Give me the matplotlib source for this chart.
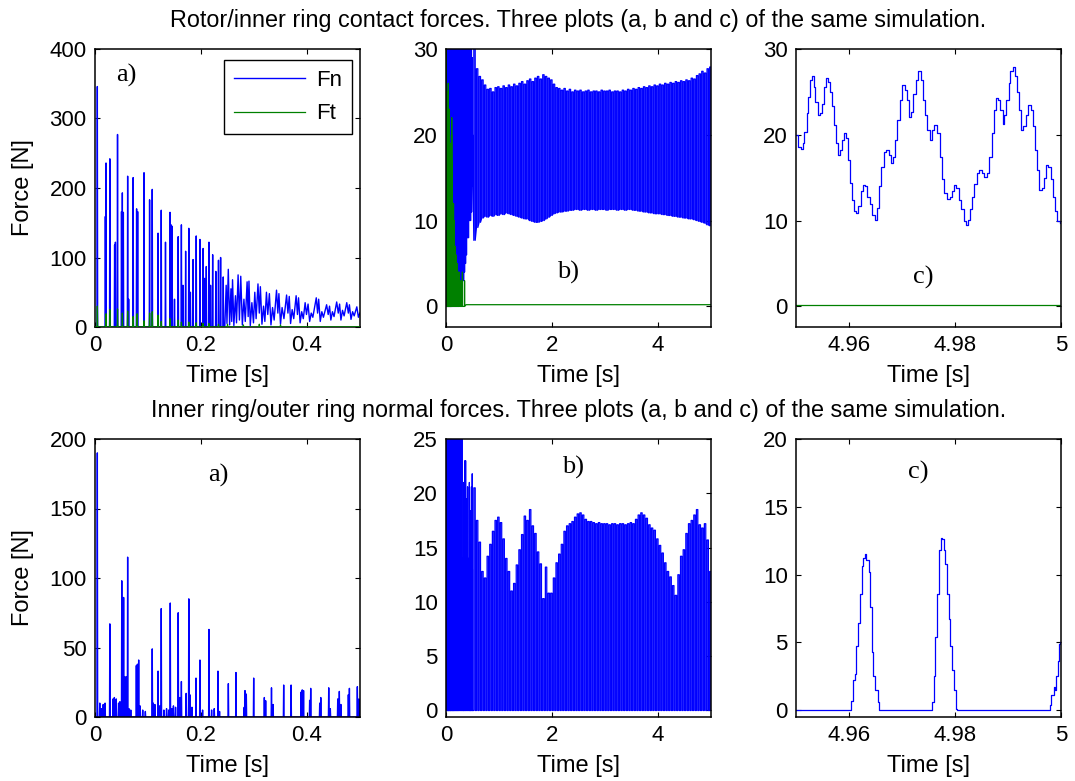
import numpy as np
import matplotlib
matplotlib.use("Agg")
import matplotlib.pyplot as plt

plt.rcParams['font.family'] = ['Liberation Sans', 'DejaVu Sans']

BLUE = (0, 0, 1)
GREEN = (0, 0.5, 0)

# ---------------- data: rotor / inner ring (top row) ----------------
# a) isolated impact spikes of Fn, 0 - 0.245 s  (time [s], peak [N])
top_spike_t = [0.0044, 0.0195, 0.0208, 0.0280, 0.0370, 0.0385, 0.0425, 0.0500, 0.0516,
               0.0535, 0.0616, 0.0635, 0.0720, 0.0785, 0.0805, 0.0925, 0.1030, 0.1080,
               0.1190, 0.1250, 0.1330, 0.1415, 0.1435, 0.1455, 0.1500, 0.1570, 0.1630,
               0.1660, 0.1710, 0.1770, 0.1800, 0.1850, 0.1910, 0.1980, 0.2040, 0.2070,
               0.2100, 0.2150, 0.2180, 0.2220, 0.2280, 0.2330, 0.2370, 0.2420]
top_spike_fn = [346, 159, 236, 242, 118, 122, 277, 166, 193,
                165, 217, 40, 215, 170, 166, 222, 183, 198,
                135, 168, 122, 165, 147, 145, 40, 130, 147,
                60, 109, 142, 50, 97, 131, 126, 113, 70,
                87, 122, 60, 104, 80, 96, 100, 72]
# a) dense oscillation of Fn, 0.245 - 0.5 s (turning points)
top_dense_t = [0.2450, 0.2475, 0.2490, 0.2515, 0.2540, 0.2565, 0.2580, 0.2595, 0.2620, 0.2650,
               0.2670, 0.2700, 0.2725, 0.2750, 0.2780, 0.2810, 0.2835, 0.2870, 0.2890, 0.2905,
               0.2930, 0.2960, 0.2990, 0.3015, 0.3040, 0.3075, 0.3100, 0.3120, 0.3150, 0.3180,
               0.3205, 0.3235, 0.3260, 0.3290, 0.3320, 0.3350, 0.3380, 0.3425, 0.3450, 0.3470,
               0.3500, 0.3530, 0.3565, 0.3615, 0.3640, 0.3665, 0.3690, 0.3720, 0.3750, 0.3795,
               0.3820, 0.3840, 0.3870, 0.3900, 0.3930, 0.3965, 0.3990, 0.4020, 0.4050, 0.4080,
               0.4110, 0.4175, 0.4200, 0.4220, 0.4250, 0.4280, 0.4310, 0.4370, 0.4400, 0.4425,
               0.4450, 0.4480, 0.4510, 0.4560, 0.4590, 0.4615, 0.4640, 0.4670, 0.4700, 0.4750,
               0.4780, 0.4800, 0.4830, 0.4860, 0.4890, 0.4940, 0.4970, 0.4995]
top_dense_fn = [2, 60, 5, 83, 3, 55, 8, 68, 2, 45,
                6, 75, 10, 73, 3, 40, 8, 65, 15, 66,
                2, 35, 6, 50, 12, 62, 20, 58, 4, 30,
                8, 50, 18, 48, 3, 28, 10, 53, 20, 48,
                4, 28, 12, 46, 20, 44, 5, 25, 12, 45,
                18, 42, 6, 22, 12, 35, 18, 33, 8, 20,
                14, 42, 20, 40, 8, 22, 14, 32, 18, 30,
                10, 22, 15, 36, 20, 33, 10, 24, 16, 35,
                20, 32, 11, 22, 16, 29, 14, 20]
# a) tangential force spikes
top_ft_t = [0.0044, 0.0208, 0.0280, 0.0425, 0.0516, 0.0616, 0.0720, 0.0795, 0.0925,
            0.1030, 0.1080, 0.1190, 0.1250, 0.1415, 0.1570, 0.1630, 0.1770, 0.1910,
            0.2040, 0.2150, 0.2330, 0.2500, 0.2800, 0.3100, 0.3500]
top_ft = [30, 19, 25, 26, 20, 23, 15, 19, 9,
          20, 22, 17, 8, 12, 10, 7, 7, 6,
          5, 5, 4, 4, 3, 4, 3]
ft_steady = 0.2

# b) steady oscillation of Fn after 0.5 s (one stroke per 0.05 s)
top_b_upper = [32.0, 27.7, 26.8, 26.4, 25.8, 25.3, 25.4, 25.0, 25.5, 25.6,
               25.4, 25.7, 25.5, 25.8, 25.6, 25.9, 25.7, 26.0, 26.2, 25.9,
               26.3, 26.5, 26.2, 26.6, 26.8, 26.5, 27.0, 26.8, 26.6, 26.4,
               25.9, 25.5, 25.4, 25.2, 25.4, 25.1, 25.3, 25.0, 25.2, 25.1,
               25.2, 25.0, 25.1, 25.2, 25.0, 25.1, 25.1, 25.0, 25.2, 25.1,
               25.1, 25.2, 25.0, 25.1, 25.1, 25.0, 25.2, 25.1, 25.3, 25.2,
               25.4, 25.3, 25.5, 25.4, 25.6, 25.5, 25.7, 25.6, 25.8, 25.7,
               25.9, 25.8, 26.0, 25.9, 26.1, 26.0, 26.2, 26.1, 26.3, 26.2,
               26.4, 26.3, 26.6, 26.5, 26.9, 27.1, 27.4, 27.2, 27.7, 27.9]
top_b_lower = [7.7, 9.2, 9.8, 10.3, 10.5, 10.4, 10.6, 10.5, 10.7, 10.6,
               10.8, 10.7, 10.9, 10.8, 10.7, 10.6, 10.5, 10.4, 10.3, 10.2,
               10.2, 10.0, 9.9, 9.8, 9.8, 9.9, 10.0, 10.2, 10.4, 10.6,
               10.8, 10.9, 11.0, 11.0, 11.1, 11.1, 11.2, 11.2, 11.3, 11.3,
               11.2, 11.3, 11.3, 11.2, 11.3, 11.3, 11.2, 11.3, 11.3, 11.3,
               11.2, 11.3, 11.3, 11.3, 11.2, 11.3, 11.3, 11.2, 11.3, 11.3,
               11.2, 11.2, 11.1, 11.1, 11.0, 11.0, 10.9, 10.9, 10.8, 10.8,
               10.8, 10.7, 10.7, 10.6, 10.6, 10.5, 10.5, 10.4, 10.4, 10.3,
               10.3, 10.2, 10.2, 10.1, 10.0, 9.9, 9.8, 9.7, 9.5, 9.4]
stroke_t0, stroke_dt = 0.525, 0.05

# c) zoom of the last 0.05 s
top_c_t = [4.95000, 4.95044, 4.95094, 4.95125, 4.95157, 4.95207, 4.95232, 4.95269, 4.95301, 4.95332,
           4.95363, 4.95407, 4.95457, 4.95489, 4.95533, 4.95570, 4.95608, 4.95645, 4.95677, 4.95721,
           4.95764, 4.95796, 4.95833, 4.95871, 4.95909, 4.95946, 4.95984, 4.96021, 4.96065, 4.96097,
           4.96134, 4.96172, 4.96222, 4.96266, 4.96303, 4.96347, 4.96391, 4.96441, 4.96485, 4.96535,
           4.96567, 4.96610, 4.96660, 4.96704, 4.96754, 4.96798, 4.96836, 4.96867, 4.96911, 4.96961,
           4.97005, 4.97049, 4.97087, 4.97130, 4.97162, 4.97206, 4.97256, 4.97300, 4.97350, 4.97394,
           4.97431, 4.97475, 4.97519, 4.97569, 4.97613, 4.97663, 4.97713, 4.97757, 4.97801, 4.97851,
           4.97901, 4.97945, 4.97989, 4.98026, 4.98070, 4.98114, 4.98164, 4.98202, 4.98239, 4.98277,
           4.98321, 4.98365, 4.98415, 4.98459, 4.98509, 4.98553, 4.98603, 4.98647, 4.98697, 4.98741,
           4.98778, 4.98810, 4.98854, 4.98897, 4.98929, 4.98966, 4.99010, 4.99042, 4.99085, 4.99123,
           4.99167, 4.99211, 4.99248, 4.99292, 4.99336, 4.99386, 4.99430, 4.99468, 4.99511, 4.99543,
           4.99593, 4.99637, 4.99681, 4.99718, 4.99762, 4.99806, 4.99844, 4.99887, 4.99931, 4.99981]
top_c_fn = [20.0, 18.6, 18.3, 19.0, 20.3, 22.5, 24.4, 26.4, 26.9, 25.6,
            23.8, 22.3, 22.5, 23.6, 25.6, 26.6, 26.2, 25.0, 23.3, 21.1,
            19.0, 17.6, 18.2, 19.4, 20.2, 19.6, 17.1, 14.4, 12.4, 11.1,
            10.9, 11.7, 13.4, 14.2, 14.0, 12.8, 11.9, 10.7, 10.1, 11.5,
            14.0, 16.3, 18.0, 18.2, 17.6, 16.7, 17.4, 19.4, 21.7, 24.0,
            25.8, 25.2, 24.0, 22.1, 22.7, 24.8, 26.4, 27.4, 26.4, 24.0,
            22.3, 20.6, 19.4, 20.6, 21.1, 20.2, 17.4, 14.8, 13.2, 12.5,
            12.8, 13.4, 14.2, 13.8, 12.4, 11.3, 9.9, 9.5, 10.1, 11.3,
            12.8, 14.3, 15.5, 15.9, 15.5, 15.1, 15.5, 17.4, 20.2, 22.9,
            24.3, 24.1, 22.9, 21.3, 22.3, 24.1, 26.0, 27.4, 27.9, 26.8,
            25.0, 22.9, 20.6, 21.0, 22.3, 23.5, 22.9, 21.0, 18.2, 15.9,
            13.6, 13.8, 15.0, 16.5, 16.3, 14.8, 12.8, 11.1, 9.9, 9.7]

# ---------------- data: inner ring / outer ring (bottom row) ----------------
bot_spike_t = [0.0044, 0.0090, 0.0125, 0.0155, 0.0190, 0.0280, 0.0340, 0.0365, 0.0400, 0.0445,
               0.0470, 0.0505, 0.0525, 0.0540, 0.0565, 0.0597, 0.0616, 0.0640, 0.0675, 0.0780,
               0.0800, 0.0824, 0.0850, 0.0900, 0.0950, 0.1080, 0.1100, 0.1130, 0.1190, 0.1220,
               0.1250, 0.1300, 0.1350, 0.1390, 0.1420, 0.1450, 0.1480, 0.1520, 0.1570, 0.1600,
               0.1630, 0.1720, 0.1770, 0.1790, 0.1830, 0.1906, 0.1980, 0.2030, 0.2150, 0.2200,
               0.2250, 0.2320, 0.2350, 0.2516, 0.2660, 0.2815, 0.2830, 0.2855, 0.2994, 0.3195,
               0.3220, 0.3330, 0.3360, 0.3560, 0.3700, 0.3890, 0.3910, 0.3935, 0.4050, 0.4070,
               0.4240, 0.4260, 0.4410, 0.4440, 0.4580, 0.4610, 0.4640, 0.4780, 0.4800, 0.4950,
               0.4980]
bot_spike_fn = [190, 10, 6, 9, 10, 67, 13, 14, 13, 10,
                11, 98, 62, 86, 29, 29, 115, 6, 5, 37,
                38, 41, 8, 5, 4, 49, 10, 9, 33, 8,
                78, 5, 6, 5, 82, 6, 8, 7, 75, 14,
                25.5, 17, 85, 16, 7, 28, 41, 5, 63, 5,
                6, 33, 4, 24, 32, 7, 19, 16.5, 28, 14,
                11.7, 21, 9, 23, 23, 18, 19.5, 19, 12, 20.6,
                10, 14, 21, 6, 13, 18.4, 9, 16, 20.6, 21.8,
                13]
# b) peaks of the steady oscillation after 0.5 s (one stroke per 0.05 s, troughs at 0)
bot_b_upper = [20.5, 17.5, 15.5, 12.8, 12.2, 14.2, 15.3, 16.5, 17.5, 17.8,
               17.3, 15.8, 14.0, 12.8, 11.0, 11.7, 13.4, 14.8, 16.2, 17.9,
               17.5, 18.5, 17.0, 16.3, 14.6, 13.5, 10.3, 13.2, 10.8, 10.8,
               12.2, 13.6, 14.4, 15.3, 16.5, 17.0, 17.2, 17.4, 17.8, 18.1,
               18.2, 18.0, 17.6, 17.4, 17.4, 17.3, 17.2, 17.3, 17.2, 17.2,
               17.2, 17.1, 17.2, 17.2, 17.1, 17.2, 17.2, 17.1, 17.2, 17.3,
               17.2, 17.6, 18.0, 18.2, 18.0, 17.7, 17.1, 16.8, 16.6, 15.8,
               15.2, 14.5, 13.6, 12.8, 12.3, 11.5, 10.6, 12.5, 14.2, 14.8,
               16.3, 17.2, 17.5, 18.0, 18.5, 17.1, 16.8, 17.2, 15.7, 12.8]
# c) contact pulses in the last 0.05 s
bot_c_t = [4.9500, 4.9600, 4.9603, 4.9607, 4.9608, 4.9612, 4.9614, 4.9617, 4.9620, 4.9624,
           4.9627, 4.9630, 4.9633, 4.9637, 4.9640, 4.9643, 4.9646, 4.9649, 4.9654, 4.9657,
           4.9754, 4.9757, 4.9760, 4.9763, 4.9766, 4.9769, 4.9773, 4.9776, 4.9779, 4.9782,
           4.9785, 4.9789, 4.9791, 4.9795, 4.9798, 4.9801, 4.9804,
           4.9976, 4.9979, 4.9982, 4.9986, 4.9989, 4.9991, 4.9994, 4.9997, 4.9998]
bot_c_fn = [0.0, 0.0, 0.7, 1.5, 2.2, 2.7, 4.7, 6.4, 8.6, 10.6,
            11.2, 11.5, 11.1, 10.2, 7.6, 4.3, 2.5, 1.5, 0.6, 0.0,
            0.0, 0.6, 2.5, 5.4, 8.6, 11.8, 12.7, 12.6, 11.8, 10.8,
            8.6, 6.7, 4.7, 3.0, 1.5, 0.1, 0.0,
            0.0, 0.4, 1.1, 1.7, 1.5, 2.5, 3.6, 4.9, 5.0]

TITLE_TOP = "Rotor/inner ring contact forces. Three plots (a, b and c) of the same simulation."
TITLE_BOT = "Inner ring/outer ring normal forces. Three plots (a, b and c) of the same simulation."


# ---------------- helpers to turn the read values into polylines ----------------
def spike_line(ts, vs, base=0.0, half=0.0006):
    order = np.argsort(ts)
    xs, ys = [], []
    for i in order:
        xs += [ts[i] - half, ts[i], ts[i] + half]
        ys += [base, vs[i], base]
    return np.array(xs), np.array(ys)


def stroke_line(t0, dt, lo, hi, w):
    xs, ys = [], []
    for k in range(len(hi)):
        t = t0 + k * dt
        xs += [t, t, t + w, t + w]
        ys += [lo[k], hi[k], hi[k], lo[k]]
    return np.array(xs), np.array(ys)


# top a) Fn series
sx, sy = spike_line(top_spike_t, top_spike_fn)
fn_a_t = np.concatenate([[0.0], sx, top_dense_t])
fn_a_v = np.concatenate([[0.0], sy, top_dense_fn])
fx, fy = spike_line(top_ft_t, top_ft)
ft_a_t = np.concatenate([[0.0], fx, [0.38, 0.5]])
ft_a_v = np.concatenate([[0.0], fy, [ft_steady, ft_steady]])

# top b) = a) up to 0.5 s + steady strokes
bx, by = stroke_line(stroke_t0, stroke_dt, top_b_lower, top_b_upper, 0.026)
fn_b_t = np.concatenate([fn_a_t, bx])
fn_b_v = np.concatenate([fn_a_v, by])
ft_b_t = np.concatenate([ft_a_t, [5.0]])
ft_b_v = np.concatenate([ft_a_v, [ft_steady]])

# bottom
bsx, bsy = spike_line(bot_spike_t, bot_spike_fn)
fn_ba_t = np.concatenate([[0.0], bsx, [0.5]])
fn_ba_v = np.concatenate([[0.0], bsy, [0.0]])
zeros = [0.0] * len(bot_b_upper)
bbx, bby = stroke_line(stroke_t0, stroke_dt, zeros, bot_b_upper, 0.026)
fn_bb_t = np.concatenate([fn_ba_t, bbx])
fn_bb_v = np.concatenate([fn_ba_v, bby])

# ---------------- figure ----------------
fig = plt.figure(figsize=(10.75, 7.81), dpi=100)
W, H = 1075.0, 781.0
lefts = [95, 446, 796]
aw = 265
rows = [(49, 327), (439, 717)]
axes = []
for (top, bot) in rows:
    r = []
    for l in lefts:
        ax = fig.add_axes([l / W, 1 - bot / H, aw / W, (bot - top) / H])
        r.append(ax)
    axes.append(r)

TICK_FS = 16
LAB_FS = 17
TITLE_FS = 16.8
LW = 0.9
serif = ['Liberation Serif', 'DejaVu Serif']


def style(ax, row_h=278.0):
    ax.tick_params(direction='in', top=True, right=True, length=3.5, width=0.8,
                   labelsize=TICK_FS, pad=6)
    for s in ax.spines.values():
        s.set_linewidth(1.1)
    ax.xaxis.set_label_coords(0.5, -38.0 / row_h)


def ylab(ax):
    ax.set_ylabel('Force [N]', fontsize=LAB_FS)
    ax.yaxis.set_label_coords(-61.0 / 265, 0.5)


# top a
ax = axes[0][0]
ax.plot(fn_a_t, fn_a_v, color=BLUE, lw=1.0, label='Fn')
ax.plot(ft_a_t, ft_a_v, color=GREEN, lw=LW, label='Ft', zorder=3)
ax.set_xlim(0, 0.5); ax.set_ylim(0, 400)
ax.set_xticks([0, 0.2, 0.4]); ax.set_xticklabels(['0', '0.2', '0.4'])
ax.set_yticks([0, 100, 200, 300, 400])
ylab(ax)
ax.set_xlabel('Time [s]', fontsize=LAB_FS)
ax.text(0.12, 0.905, 'a)', transform=ax.transAxes, family=serif, fontsize=19,
        ha='center', va='center')
leg = ax.legend(loc='upper right', bbox_to_anchor=(0.97, 0.96), fontsize=TICK_FS,
                fancybox=False, edgecolor='black', framealpha=1, handlelength=3.2,
                borderpad=0.45, labelspacing=0.55, handletextpad=0.5, borderaxespad=0)
leg.get_frame().set_linewidth(1.0)
style(ax)

# top b
ax = axes[0][1]
ax.plot(fn_b_t, fn_b_v, color=BLUE, lw=LW)
ax.plot(ft_b_t, ft_b_v, color=GREEN, lw=LW)
ax.set_xlim(0, 5); ax.set_ylim(-2.4, 30)
ax.set_xticks([0, 2, 4]); ax.set_yticks([0, 10, 20, 30])
ax.set_xlabel('Time [s]', fontsize=LAB_FS)
ax.set_title(TITLE_TOP, fontsize=TITLE_FS, pad=16)
ax.text(0.46, 0.198, 'b)', transform=ax.transAxes, family=serif, fontsize=19,
        ha='center', va='center')
style(ax)

# top c
ax = axes[0][2]
ax.plot(top_c_t, top_c_fn, color=BLUE, lw=LW, drawstyle='steps-post')
ax.plot([4.95, 5.0], [ft_steady, ft_steady], color=GREEN, lw=LW)
ax.set_xlim(4.95, 5.0); ax.set_ylim(-2.4, 30)
ax.set_xticks([4.96, 4.98, 5.0]); ax.set_xticklabels(['4.96', '4.98', '5'])
ax.set_yticks([0, 10, 20, 30])
ax.set_xlabel('Time [s]', fontsize=LAB_FS)
ax.text(0.479, 0.18, 'c)', transform=ax.transAxes, family=serif, fontsize=19,
        ha='center', va='center')
style(ax)

# bottom a
ax = axes[1][0]
ax.plot(fn_ba_t, fn_ba_v, color=BLUE, lw=1.0)
ax.set_xlim(0, 0.5); ax.set_ylim(0, 200)
ax.set_xticks([0, 0.2, 0.4]); ax.set_xticklabels(['0', '0.2', '0.4'])
ax.set_yticks([0, 50, 100, 150, 200])
ylab(ax)
ax.set_xlabel('Time [s]', fontsize=LAB_FS)
ax.text(0.464, 0.87, 'a)', transform=ax.transAxes, family=serif, fontsize=19,
        ha='center', va='center')
style(ax)

# bottom b
ax = axes[1][1]
ax.plot(fn_bb_t, fn_bb_v, color=BLUE, lw=LW)
ax.set_xlim(0, 5); ax.set_ylim(-0.6, 25)
ax.set_xticks([0, 2, 4]); ax.set_yticks([0, 5, 10, 15, 20, 25])
ax.set_xlabel('Time [s]', fontsize=LAB_FS)
ax.set_title(TITLE_BOT, fontsize=TITLE_FS, pad=16)
ax.text(0.479, 0.899, 'b)', transform=ax.transAxes, family=serif, fontsize=19,
        ha='center', va='center')
style(ax)

# bottom c
ax = axes[1][2]
ax.plot(bot_c_t, bot_c_fn, color=BLUE, lw=LW, drawstyle='steps-post')
ax.set_xlim(4.95, 5.0); ax.set_ylim(-0.5, 20)
ax.set_xticks([4.96, 4.98, 5.0]); ax.set_xticklabels(['4.96', '4.98', '5'])
ax.set_yticks([0, 5, 10, 15, 20])
ax.set_xlabel('Time [s]', fontsize=LAB_FS)
ax.text(0.46, 0.881, 'c)', transform=ax.transAxes, family=serif, fontsize=19,
        ha='center', va='center')
style(ax)

fig.savefig('out.png', dpi=100)
